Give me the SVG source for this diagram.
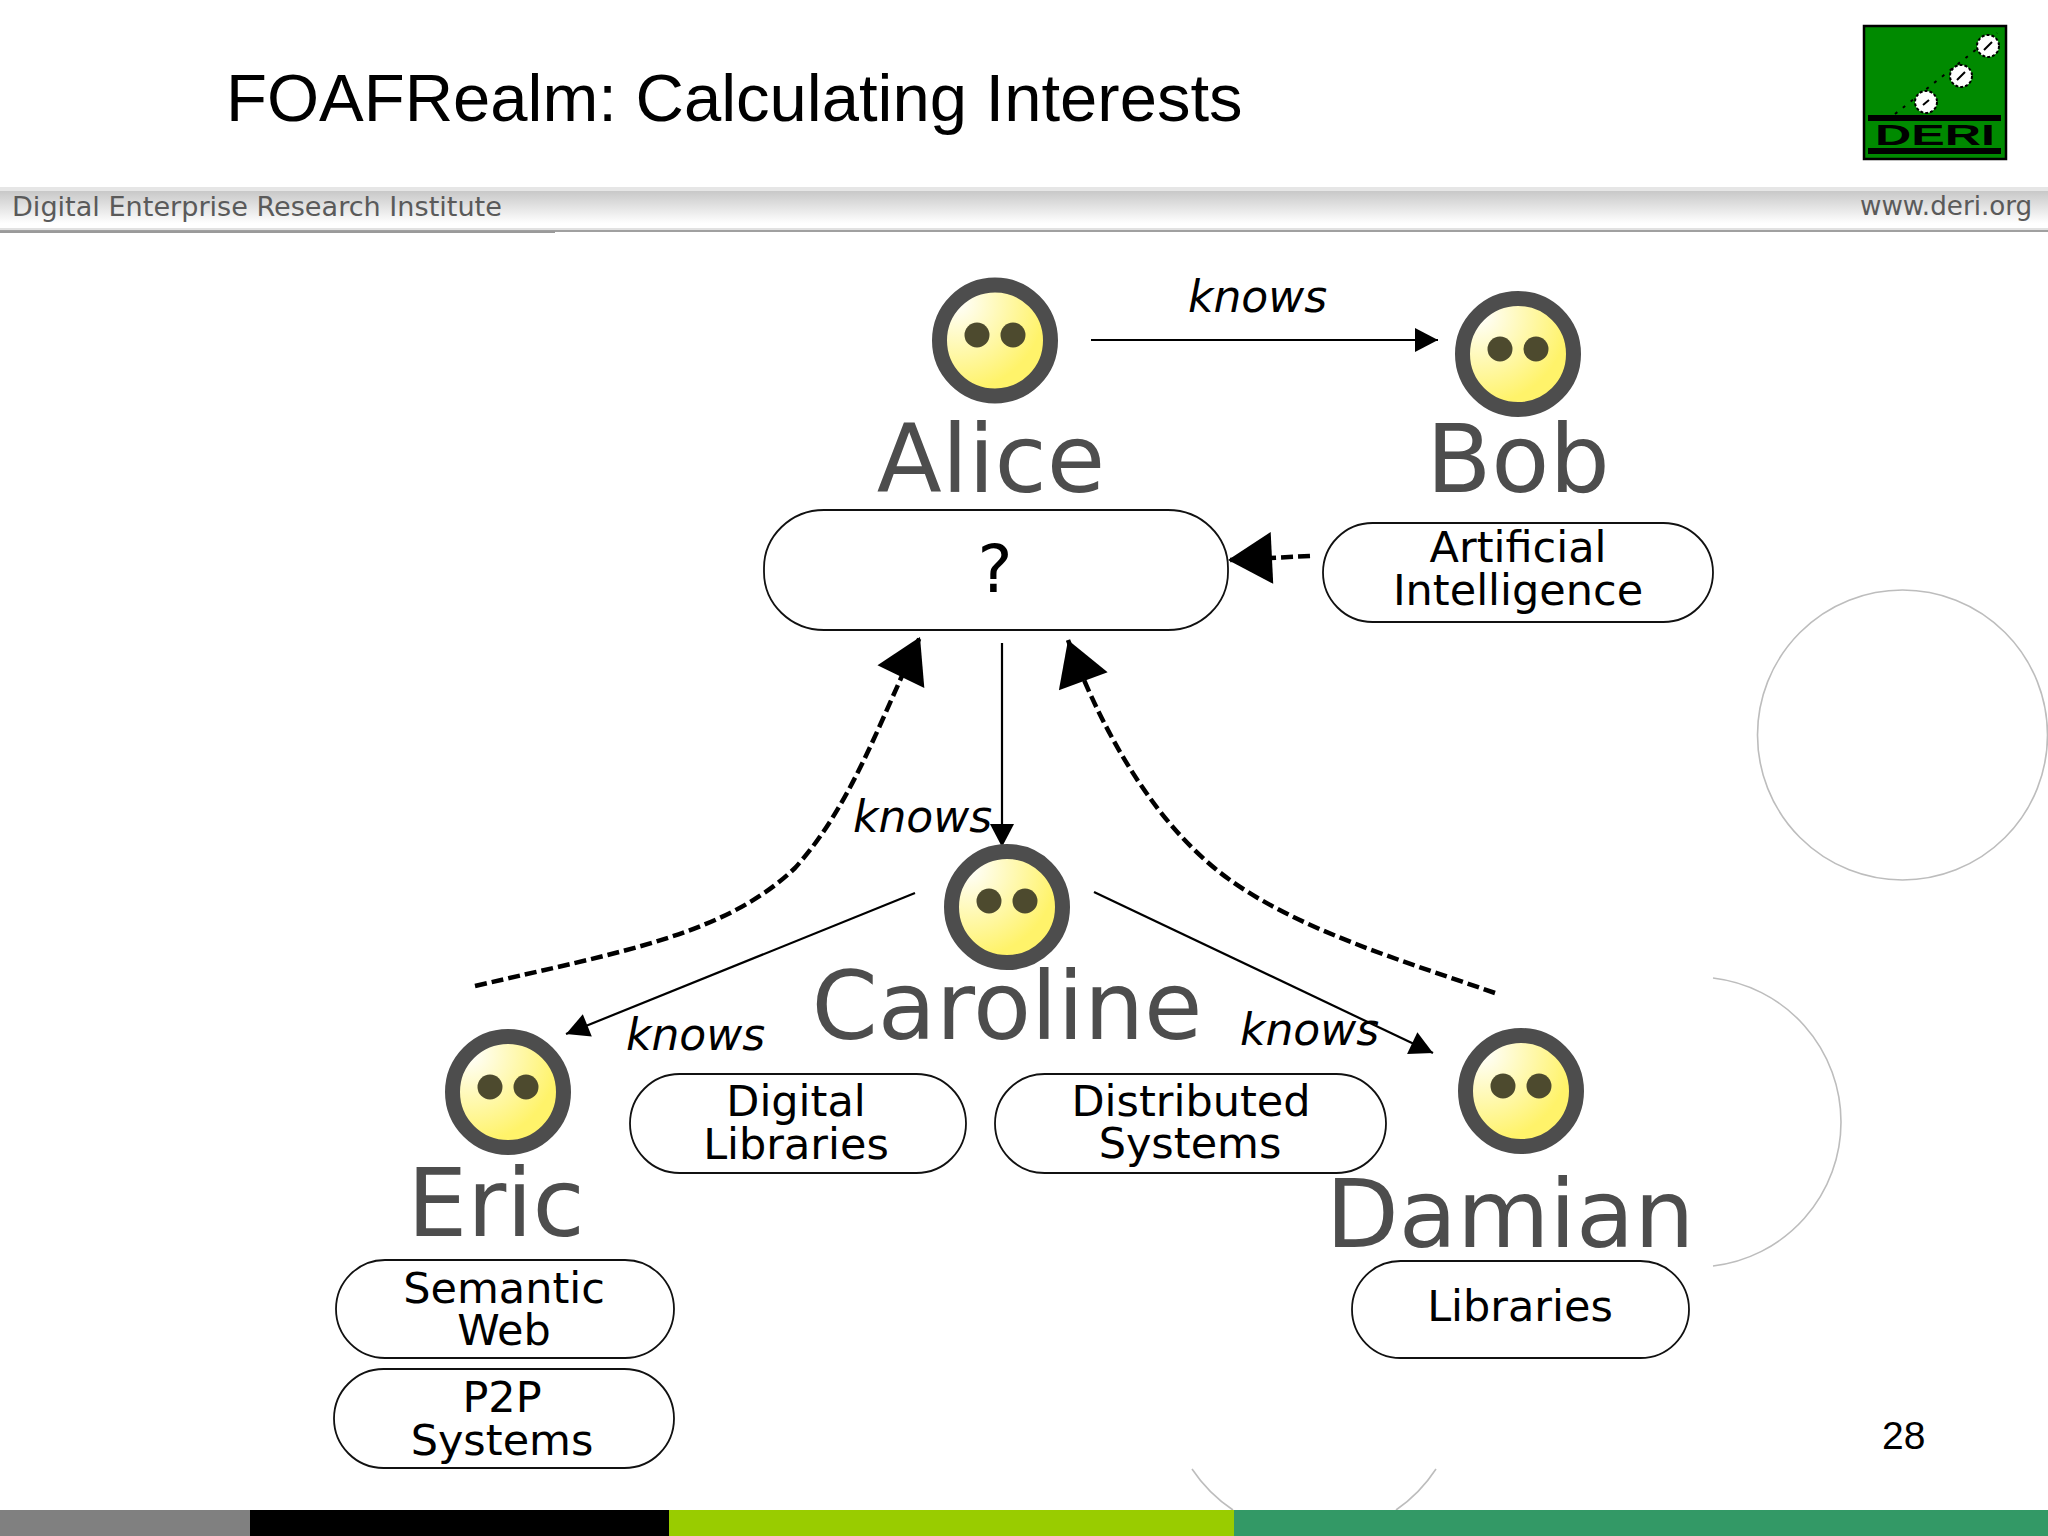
<svg xmlns="http://www.w3.org/2000/svg" width="2048" height="1536" viewBox="0 0 2048 1536">
<style>
.name{font-family:"DejaVu Sans",sans-serif;font-size:95px;fill:#4d4d4d;text-anchor:middle}
.tag{font-family:"DejaVu Sans",sans-serif;font-size:43px;fill:#000;text-anchor:middle}
.knows{font-family:"DejaVu Sans",sans-serif;font-style:oblique;font-size:44px;fill:#000}
.pill{fill:#fff;stroke:#111;stroke-width:1.8}
.deco{fill:none;stroke:#bdbdbd;stroke-width:1.6}
.face{fill:url(#faceGrad);stroke:#4d4d4d;stroke-width:15}
.eye{fill:#4d4a2e}
.solid{fill:none;stroke:#000;stroke-width:2.2}
.dash{fill:none;stroke:#000;stroke-width:4.5;stroke-dasharray:12 5}
.hdr{font-family:"DejaVu Sans",sans-serif;fill:#5a5a5a}
.ball{fill:#fff;stroke:#000;stroke-width:2;stroke-dasharray:3 2}
</style>
<defs>
<linearGradient id="band" x1="0" y1="0" x2="0" y2="1"><stop offset="0" stop-color="#c8c8c8"/><stop offset="0.85" stop-color="#ffffff"/></linearGradient>
<radialGradient id="faceGrad" cx="0.15" cy="0.15" r="0.95"><stop offset="0" stop-color="#ffffff"/><stop offset="0.85" stop-color="#fff36a"/></radialGradient>
<marker id="small" markerUnits="userSpaceOnUse" markerWidth="24" markerHeight="26" refX="23" refY="12" orient="auto" overflow="visible"><polygon points="0,0 23,12 0,24" fill="#000"/></marker>
<marker id="big" markerUnits="userSpaceOnUse" markerWidth="46" markerHeight="54" refX="44" refY="26" orient="auto" overflow="visible"><polygon points="0,0 44,26 0,52" fill="#000"/></marker>
</defs>
<rect width="2048" height="1536" fill="#fff"/>

<g id="slide-decoration">
<circle class="deco" cx="1902.5" cy="735" r="145"/>
<path class="deco" d="M1713,978 A145,145 0 0 1 1713,1266"/>
<path class="deco" d="M1192,1469 A148,148 0 0 0 1233,1510"/>
<path class="deco" d="M1396,1510 A148,148 0 0 0 1436,1469"/>
</g>

<g id="header">
<text x="226" y="121" font-family="Liberation Sans, Arial, sans-serif" font-size="67" fill="#000">FOAFRealm: Calculating Interests</text>
<rect x="0" y="187" width="2048" height="4" fill="#e6e6e6"/>
<rect x="0" y="191" width="2048" height="38" fill="url(#band)"/>
<rect x="0" y="228" width="2048" height="2" fill="#e2e2e2"/>
<rect x="0" y="230" width="2048" height="2" fill="#a0a0a0"/>
<rect x="0" y="231" width="555" height="2" fill="#9a9a9a"/>
<text class="hdr" x="12" y="216" font-size="27.1">Digital Enterprise Research Institute</text>
<text class="hdr" x="1860" y="215" font-size="26.2">www.deri.org</text>
</g>

<g id="logo">
<rect x="1864" y="26" width="142" height="133" fill="#008a00" stroke="#000" stroke-width="2.5"/>
<rect x="1868" y="115" width="133" height="6" fill="#000"/>
<rect x="1868" y="148" width="133" height="6" fill="#000"/>
<path d="M1895,114 L1997,33" stroke="#000" stroke-width="2" stroke-dasharray="3 7" fill="none"/>
<circle class="ball" cx="1926" cy="102" r="11"/>
<circle class="ball" cx="1961" cy="76" r="11"/>
<circle class="ball" cx="1988" cy="46" r="11"/>
<path d="M1923,105 L1929,100 M1957,80 L1965,72 M1984,50 L1992,42" stroke="#000" stroke-width="2" fill="none"/>
<text x="1875" y="145" font-family="Liberation Sans, Arial, sans-serif" font-weight="bold" font-size="29" textLength="120" lengthAdjust="spacingAndGlyphs" fill="#000">DERI</text>
</g>

<g id="connectors">
<path class="solid" marker-end="url(#small)" d="M1091,340 L1438,340"/>
<path class="solid" marker-end="url(#small)" d="M1002,643 L1002,847"/>
<path class="solid" marker-end="url(#small)" d="M915,893 L566,1034"/>
<path class="solid" marker-end="url(#small)" d="M1094,892 L1433,1053"/>
<path class="dash" marker-end="url(#big)" d="M1310,556 L1228,560"/>
<path class="dash" marker-end="url(#big)" d="M475,986 C620,952 725,935 795,868 C852,805 880,720 920,637"/>
<path class="dash" marker-end="url(#big)" d="M1495,993 C1400,960 1300,930 1230,880 C1160,830 1105,740 1068,640"/>
<text class="knows" x="1188" y="312">knows</text>
<text class="knows" x="853" y="832">knows</text>
<text class="knows" x="626" y="1050">knows</text>
<text class="knows" x="1240" y="1045">knows</text>
</g>

<g id="alice">
<circle class="face" cx="995" cy="340.500" r="55.5"/>
<circle class="eye" cx="977" cy="335" r="12.5"/><circle class="eye" cx="1013" cy="335" r="12.5"/>
<text class="name" x="991" y="492">Alice</text>
<rect class="pill" x="764" y="510" width="464" height="120" rx="60" ry="58"/>
<text class="tag" x="995" y="592" style="font-size:66px">?</text>
</g>

<g id="bob">
<circle class="face" cx="1518" cy="354" r="55.5"/>
<circle class="eye" cx="1500" cy="349" r="12.5"/><circle class="eye" cx="1536" cy="349" r="12.5"/>
<text class="name" x="1518" y="492">Bob</text>
<rect class="pill" x="1323" y="523" width="390" height="99" rx="49.5"/>
<text class="tag" x="1518" y="562">Artificial</text>
<text class="tag" x="1518" y="605">Intelligence</text>
</g>

<g id="caroline">
<circle class="face" cx="1007" cy="907" r="55.5"/>
<circle class="eye" cx="989" cy="901" r="12.5"/><circle class="eye" cx="1025" cy="901" r="12.5"/>
<text class="name" x="1007" y="1039">Caroline</text>
<rect class="pill" x="630" y="1074" width="336" height="99" rx="49.5"/>
<text class="tag" x="796" y="1116">Digital</text>
<text class="tag" x="796" y="1159">Libraries</text>
<rect class="pill" x="995" y="1074" width="391" height="99" rx="49.500"/>
<text class="tag" x="1191" y="1116">Distributed</text>
<text class="tag" x="1190" y="1158">Systems</text>
</g>

<g id="eric">
<circle class="face" cx="508" cy="1092" r="55.5"/>
<circle class="eye" cx="490" cy="1087" r="12.5"/><circle class="eye" cx="526" cy="1087" r="12.5"/>
<text class="name" x="496" y="1236">Eric</text>
<rect class="pill" x="336" y="1260" width="338" height="98" rx="49"/>
<text class="tag" x="504" y="1303">Semantic</text>
<text class="tag" x="504" y="1345">Web</text>
<rect class="pill" x="334" y="1369" width="340" height="99" rx="49.5"/>
<text class="tag" x="502" y="1412">P2P</text>
<text class="tag" x="502" y="1455">Systems</text>
</g>

<g id="damian">
<circle class="face" cx="1521" cy="1091" r="55.5"/>
<circle class="eye" cx="1503" cy="1086" r="12.5"/><circle class="eye" cx="1539" cy="1086" r="12.5"/>
<text class="name" x="1510" y="1247">Damian</text>
<rect class="pill" x="1352" y="1261" width="337" height="97" rx="48.5"/>
<text class="tag" x="1520" y="1321">Libraries</text>
</g>

<g id="footer">
<text x="1882" y="1449" font-family="Liberation Sans, Arial, sans-serif" font-size="39" fill="#000">28</text>
<rect x="0" y="1510" width="250" height="26" fill="#808080"/>
<rect x="250" y="1510" width="419" height="26" fill="#000"/>
<rect x="669" y="1510" width="565" height="26" fill="#99cc00"/>
<rect x="1234" y="1510" width="814" height="26" fill="#339966"/>
</g>
</svg>
